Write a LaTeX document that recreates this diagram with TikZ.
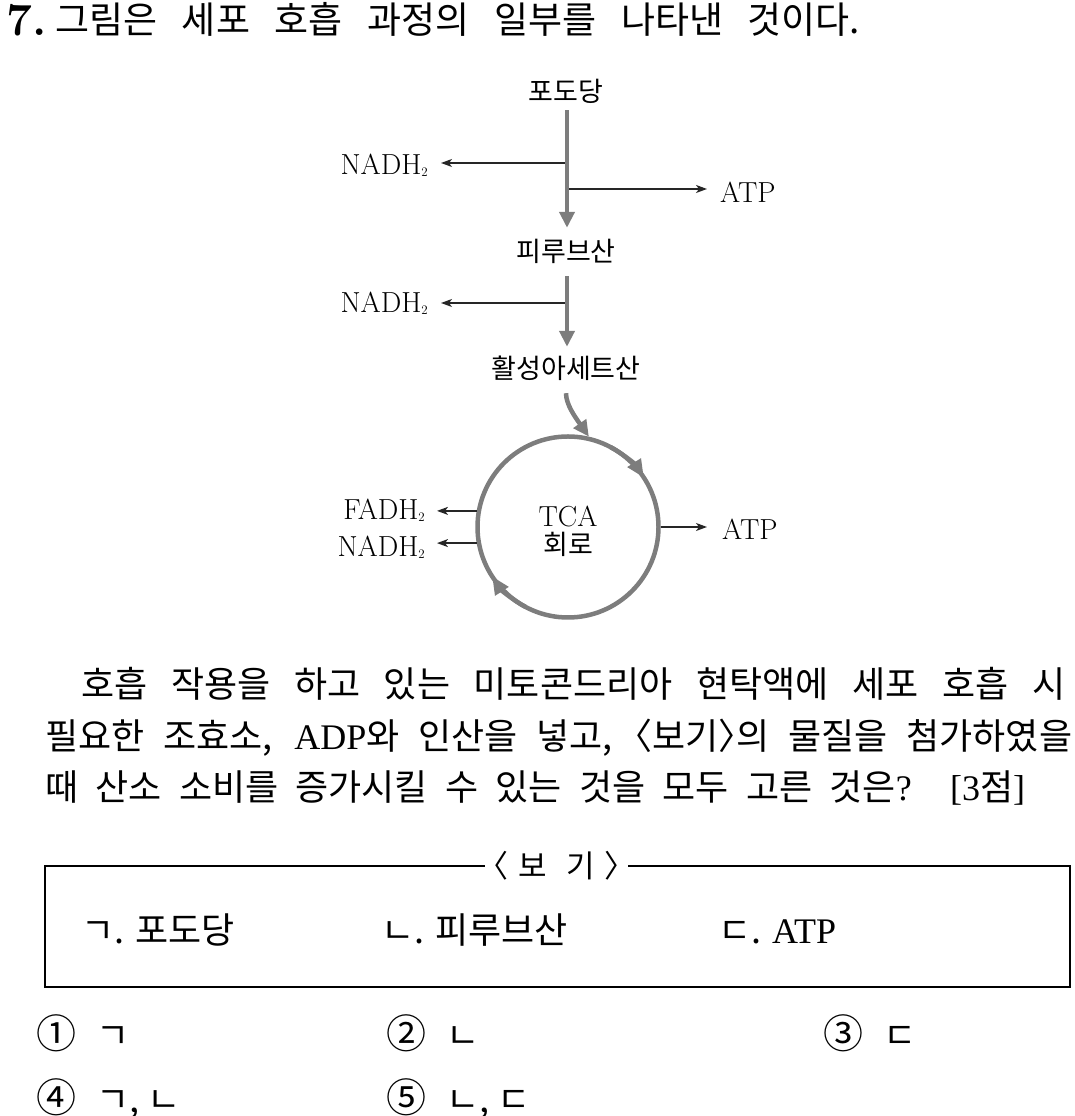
\documentclass[tikz,border=0pt]{standalone}
\usepackage{fontspec}
\newfontfamily\kr{Noto Sans CJK KR}
\newfontfamily\krh[RawFeature=+halt]{Noto Sans CJK KR}
\newfontfamily\lser{Liberation Serif}
\usetikzlibrary{arrows.meta}
\definecolor{arrgray}{RGB}{125,125,125}
\newcommand{\subtwo}{\raisebox{-2pt}{\fontsize{13}{13}\selectfont 2}}
\newcommand{\circnum}[1]{{\fontsize{40}{40}\selectfont #1}}
\begin{document}
\begin{tikzpicture}[x=1pt,y=1pt,
  bigarrow/.style={draw=arrgray, line width=4.5pt, -{Triangle[length=16pt,width=15pt]}},
  circarrow/.style={draw=arrgray, line width=4.5pt, -{Triangle[length=18pt,width=15pt]}},
  thinarrow/.style={draw=black!85, line width=1.3pt, -{Stealth[length=11pt,width=8pt,inset=3pt]}},
  dlabel/.style={font=\kr\fontsize{27}{27}\selectfont, inner sep=0pt, text height=22pt, text depth=2pt},
  chem/.style={font=\fontsize{29}{29}\selectfont, inner sep=0pt},
  body/.style={font=\kr\fontsize{36}{42}\selectfont, inner sep=0pt, anchor=base west},
]
\useasboundingbox (0,0) rectangle (1075,1116);

% ---------- title ----------
\node[anchor=base west, inner sep=0pt, font=\bfseries\fontsize{46}{46}\selectfont] (qnum) at (6,1080) {7.};
\node[body, font=\kr\fontsize{37}{42}\selectfont] (title) at (55,1082) {\hbox to 805pt{그림은 세포 호흡 과정의 일부를 나타낸 것이다.}};

% ---------- diagram ----------
\node[dlabel] (glu) at (566,1024) {포도당};
\node[dlabel] (pyr) at (566,864) {피루브산};
\node[dlabel] (acet) at (566,747) {활성아세트산};
\node[circle, draw=arrgray, line width=4.5pt, minimum size=181pt, inner sep=0pt] (tca) at (568,589) {};
\node[chem, anchor=base] (tcat) at (568,589) {TCA};
\node[dlabel] (hoiro) at (568,571) {회로};

\node[chem, anchor=base east] (nadha) at (428,941) {NADH\subtwo};
\node[chem, anchor=base west] (atpa) at (720,913) {ATP};
\node[chem, anchor=base east] (nadhb) at (428,803) {NADH\subtwo};
\node[chem, anchor=base east] (fadh) at (425,596) {FADH\subtwo};
\node[chem, anchor=base east] (nadhc) at (425,559) {NADH\subtwo};
\node[chem, anchor=base west] (atpc) at (722,576) {ATP};

\coordinate (b1) at (567,953);
\coordinate (b2) at (567,927);
\coordinate (b3) at (567,813);

\draw[thinarrow, shorten >=13pt] (b1) -- (b1 -| nadha.east);
\draw[thinarrow, shorten >=13pt] (b2) -- (b2 -| atpa.west);
\draw[thinarrow, shorten >=13pt] (b3) -- (b3 -| nadhb.east);
\draw[thinarrow, shorten >=12pt] (tca.170) -- (tca.170 -| fadh.east);
\draw[thinarrow, shorten >=12pt] (tca.190) -- (tca.190 -| nadhc.east);
\draw[thinarrow, shorten >=15pt] (tca.east) -- (tca.east -| atpc.west);

\draw[bigarrow, shorten <=6pt, shorten >=12pt] (glu.south -| b1) -- (pyr.north -| b1);
\draw[bigarrow, shorten <=12pt, shorten >=10pt] (pyr.south -| b1) -- (acet.north -| b1);
\draw[bigarrow, shorten <=12pt] (acet.south) to[out=-90, in=125] (tca.77);

\draw[circarrow] ([shift={(62:90.5)}]tca.center) arc[start angle=62, end angle=33, radius=90.5];
\draw[circarrow] ([shift={(242:90.5)}]tca.center) arc[start angle=242, end angle=213, radius=90.5];

% ---------- paragraph ----------
\node[body] (p1) at (81,418) {\hbox to 984pt{호흡 작용을 하고 있는 미토콘드리아 현탁액에 세포 호흡 시}};
\node[body] (p2) at (45,366) {\hbox to 1027pt{필요한 조효소, {\lser ADP}와 인산을 넣고, {\krh 〈}보기{\krh 〉}의 물질을 첨가하였을}};
\node[body] (p3) at (45,315) {\hbox to 980pt{때 산소 소비를 증가시킬 수 있는 것을 모두 고른 것은{\lser ?} {\lser [3}점{\lser ]}}};

% ---------- box ----------
\node[inner sep=0pt, minimum width=143pt, font=\krh\fontsize{31}{31}\selectfont] (lab) at (556.5,250) {\hbox to 127pt{〈\hfil 보\hfil\hfil 기\hfil 〉}};
\coordinate (tl) at (45,250);
\coordinate (bl) at (45,129);
\coordinate (br) at (1070,129);
\coordinate (tr) at (1070,250);
\draw[line width=2pt] (lab.west |- tl) -- (tl) -- (bl) -- (br) -- (tr) -- (lab.east |- tr);

\node[body] (k1) at (81,172) {ㄱ. 포도당};
\node[body] (k2) at (381,172) {ㄴ. 피루브산};
\node[body] (k3) at (718,172) {ㄷ. {\lser ATP}};

% ---------- choices ----------
\node[body] (c1) at (36,67) {\circnum{①}};
\node[body] (a1) at (96,67) {ㄱ};
\node[body] (c2) at (386,67) {\circnum{②}};
\node[body] (a2) at (446,67) {ㄴ};
\node[body] (c3) at (823,67) {\circnum{③}};
\node[body] (a3) at (883,67) {ㄷ};
\node[body] (c4) at (36,4) {\circnum{④}};
\node[body] (a4) at (96,4) {ㄱ, ㄴ};
\node[body] (c5) at (386,4) {\circnum{⑤}};
\node[body] (a5) at (446,4) {ㄴ, ㄷ};
\end{tikzpicture}
\end{document}
